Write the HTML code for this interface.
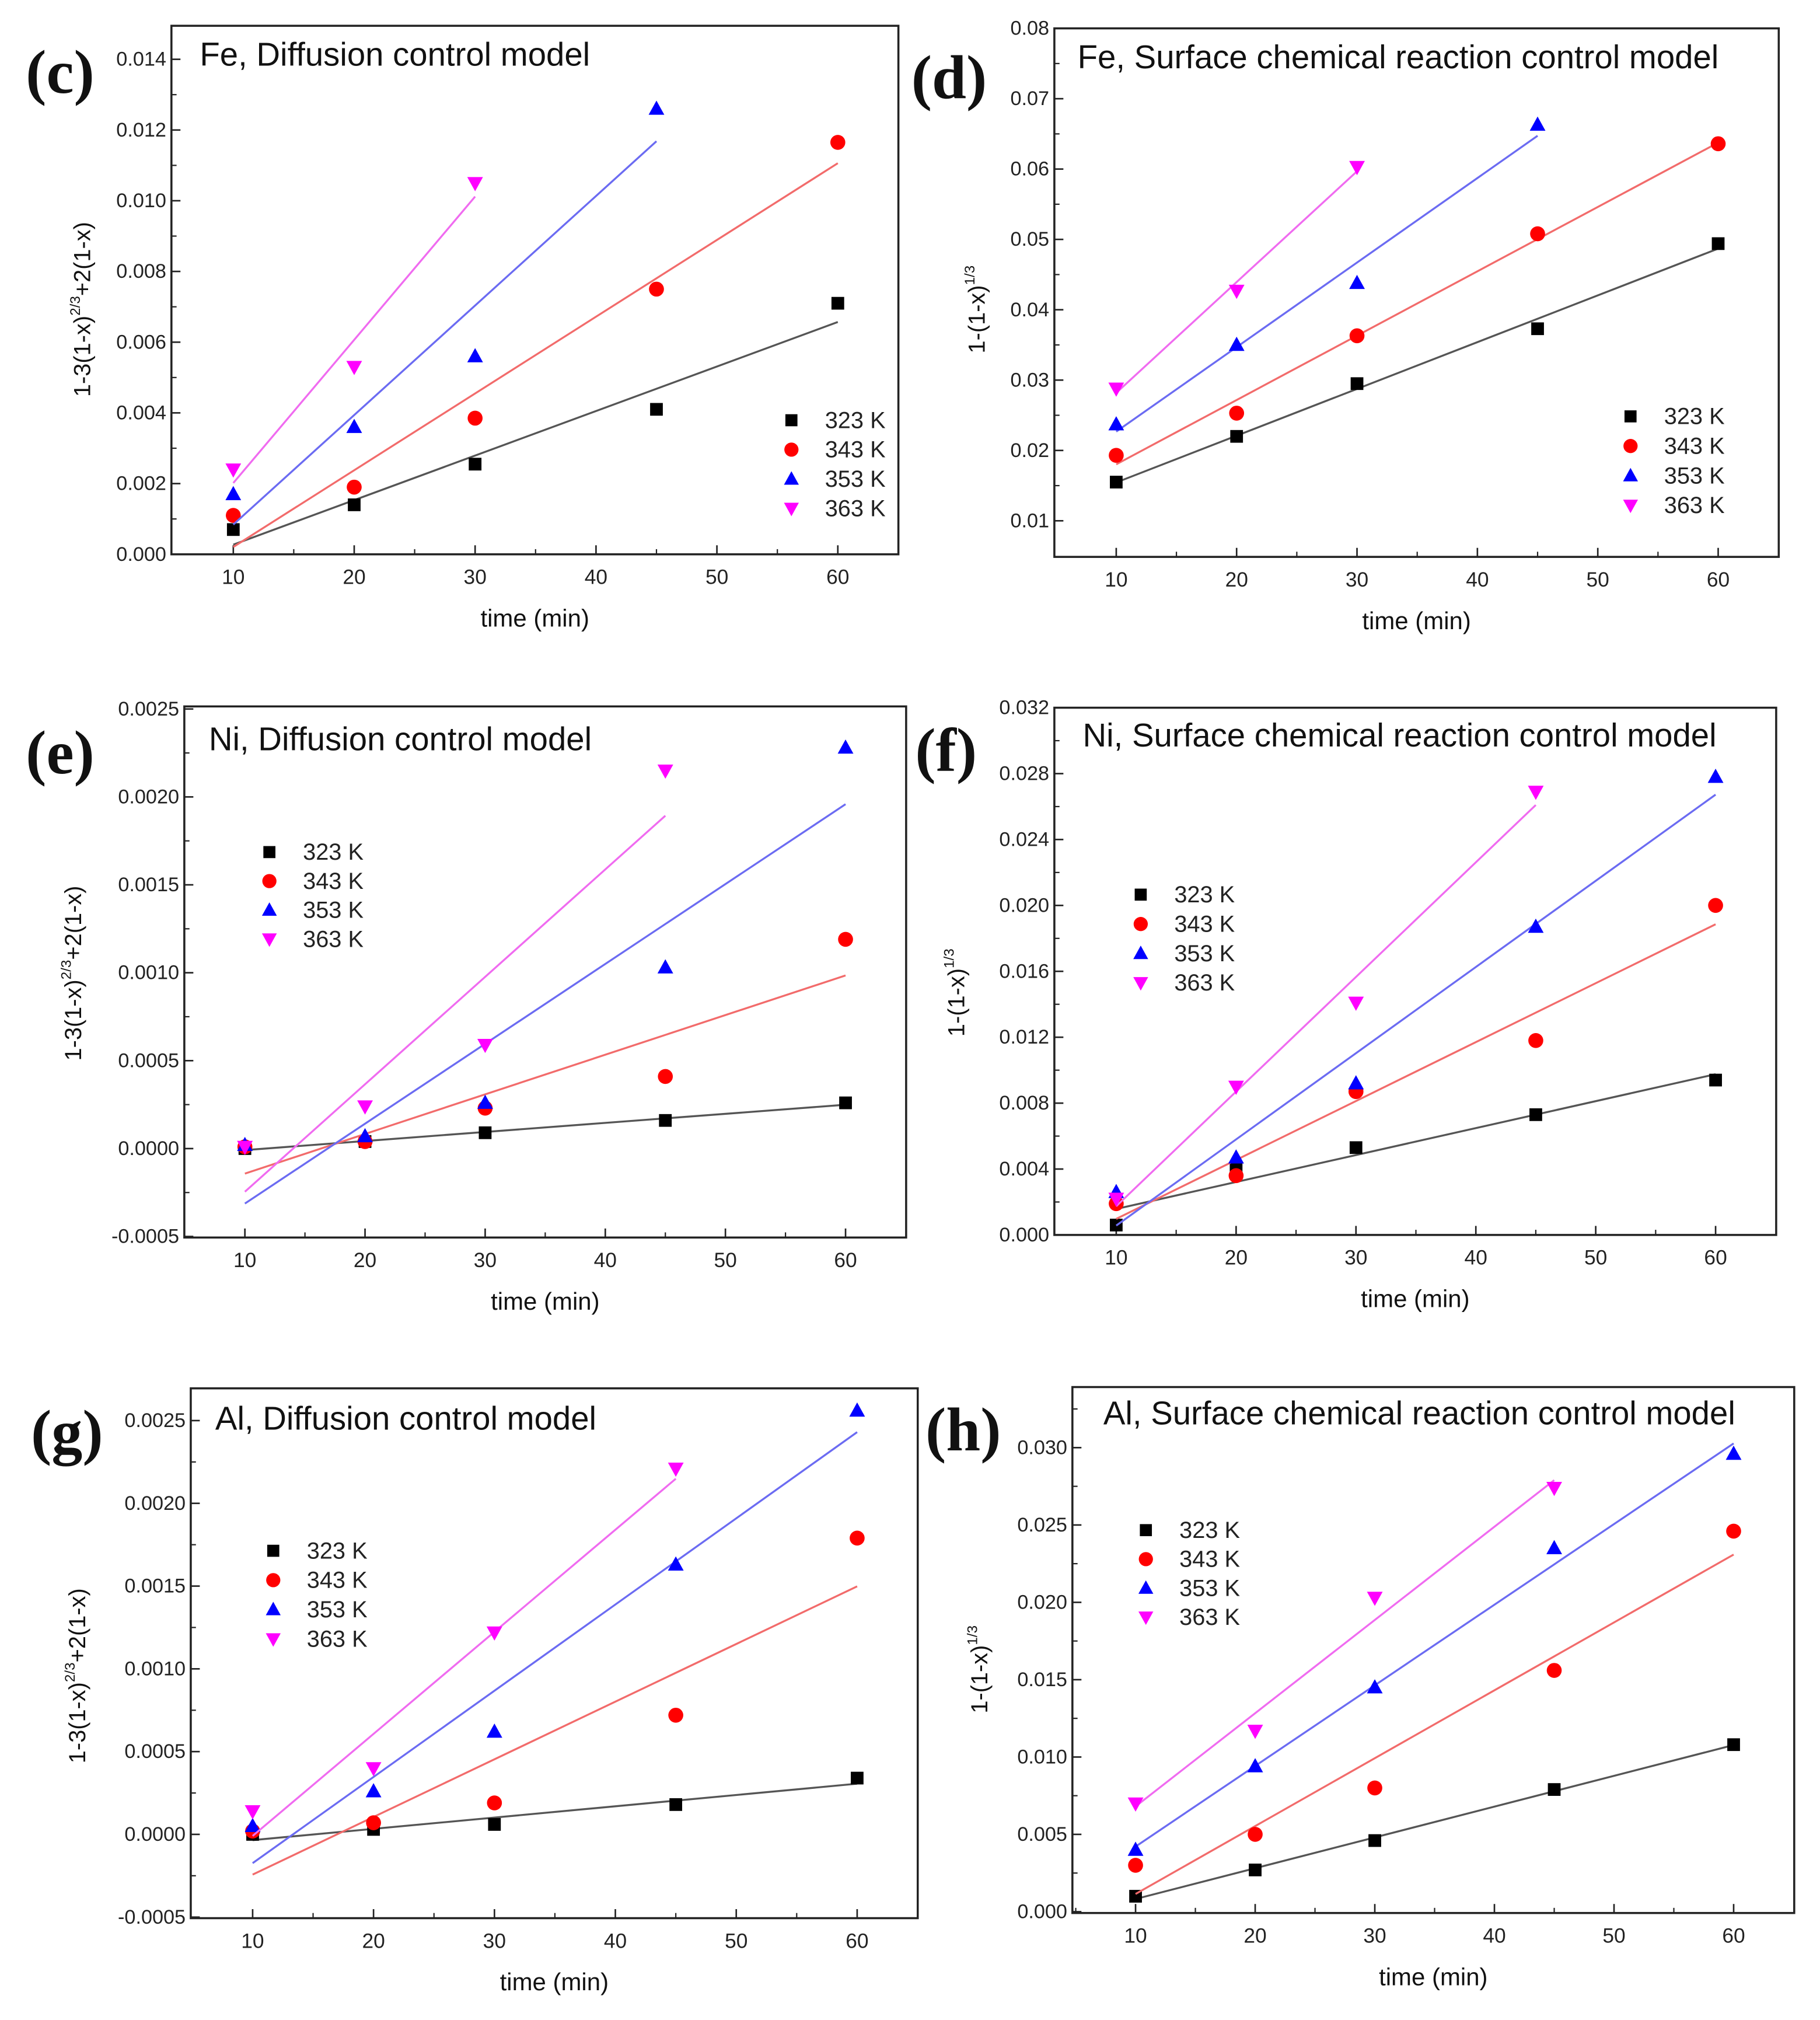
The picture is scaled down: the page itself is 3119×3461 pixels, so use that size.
<!DOCTYPE html>
<html><head><meta charset="utf-8">
<style>
html,body{margin:0;padding:0;background:#fff;}
svg{display:block;}
text{font-family:"Liberation Sans",sans-serif;}
</style></head>
<body>
<svg id="fig" xmlns="http://www.w3.org/2000/svg" width="3119" height="3461" viewBox="0 0 1412 1567" preserveAspectRatio="none"></svg>
<script>
// ---- data ----
const temps = ["323 K","343 K","353 K","363 K"];
const t5 = [10,20,30,45,60];
const t4 = [10,20,30,45];
const t3 = [10,20,30];
// panel c
const c323 = [0.0007,0.0014,0.00255,0.0041,0.0071];
const c343 = [0.0011,0.0019,0.00385,0.0075,0.01165];
const c353 = [0.0017,0.0036,0.0056,0.0126];
const c363 = [0.0024,0.0053,0.0105];
// panel d
const d323 = [0.0155,0.022,0.0295,0.0373,0.0494];
const d343 = [0.0193,0.0253,0.0363,0.0508,0.0636];
const d353 = [0.0237,0.035,0.0438,0.0663];
const d363 = [0.0288,0.0427,0.0603];
// panel e
const e323 = [0.0,0.00004,0.00009,0.00016,0.00026];
const e343 = [0.00001,0.00004,0.00023,0.00041,0.00119];
const e353 = [0.00002,0.00007,0.00026,0.00103,0.00228];
const e363 = [0.00001,0.00024,0.00059,0.00215];
// panel f
const f323 = [0.0006,0.0041,0.0053,0.0073,0.0094];
const f343 = [0.0019,0.0036,0.0087,0.0118,0.0200];
const f353 = [0.0026,0.0047,0.0092,0.0187,0.0278];
const f363 = [0.0022,0.0090,0.0141,0.0269];
// panel g
const g323 = [0.0,0.00003,0.00006,0.00018,0.00034];
const g343 = [0.00002,0.00007,0.00019,0.00072,0.00179];
const g353 = [0.00005,0.00026,0.00062,0.00163,0.00256];
const g363 = [0.00014,0.0004,0.00122,0.00221];
// panel h
const h323 = [0.001,0.0027,0.0046,0.0079,0.0108];
const h343 = [0.003,0.005,0.008,0.0156,0.0246];
const h353 = [0.004,0.0094,0.0145,0.0235,0.0296];
const h363 = [0.007,0.0117,0.0203,0.0274];
// tick labels
const xTicks = [10,20,30,40,50,60];
const ticksC = ["0.000","0.002","0.004","0.006","0.008","0.010","0.012","0.014"];
const ticksD = ["0.01","0.02","0.03","0.04","0.05","0.06","0.07","0.08"];
const ticksE = ["-0.0005","0.0000","0.0005","0.0010","0.0015","0.0020","0.0025"];
const ticksF = ["0.000","0.004","0.008","0.012","0.016","0.020","0.024","0.028","0.032"];
const ticksH = ["0.000","0.005","0.010","0.015","0.020","0.025","0.030"];

const NS="http://www.w3.org/2000/svg";
const svg=document.getElementById('fig');
function mk(tag,attrs,parent){const e=document.createElementNS(NS,tag);for(const k in attrs)e.setAttribute(k,attrs[k]);(parent||svg).appendChild(e);return e;}

const colors=["#000000","#ff0000","#0000ff","#ff00ff"];
const lineColors=["#555555","#f26b6b","#6b6bf2","#f06bf0"];

function marker(g,k,x,y,s){
  let m;
  if(k===0) m=mk('rect',{x:x-s*0.85,y:y-s*0.85,width:s*1.7,height:s*1.7,fill:colors[0]},g);
  else if(k===1) m=mk('circle',{cx:x,cy:y,r:s,fill:colors[1]},g);
  else if(k===2) m=mk('polygon',{points:`${x},${y-s*1.1} ${x-s*1.05},${y+s*0.8} ${x+s*1.05},${y+s*0.8}`,fill:colors[2]},g);
  else m=mk('polygon',{points:`${x},${y+s*1.1} ${x-s*1.05},${y-s*0.8} ${x+s*1.05},${y-s*0.8}`,fill:colors[3]},g);
  return m;
}

function fit(xs,ys){const n=xs.length;let sx=0,sy=0,sxx=0,sxy=0;for(let i=0;i<n;i++){sx+=xs[i];sy+=ys[i];sxx+=xs[i]*xs[i];sxy+=xs[i]*ys[i];}const b=(n*sxy-sx*sy)/(n*sxx-sx*sx);return [b,(sy-b*sx)/n];}

function panel(p){
  const g=mk('g',{});
  
  
  const X=v=>p.x10+(v-10)*(p.x60-p.x10)/50;
  const Y=v=>p.y0+(v-p.v0)*(p.y1-p.y0)/(p.v1-p.v0);
  const fr=mk('rect',{x:p.L,y:p.T,width:p.R-p.L,height:p.B-p.T,fill:'none',stroke:'#222','stroke-width':1.6},g);
  
  xTicks.forEach(v=>{
    const x=X(v);
    mk('line',{x1:x,x2:x,y1:p.B,y2:p.B-7,stroke:'#222','stroke-width':1.2},g);
    const t=mk('text',{x:x,y:p.B+23,'font-size':16,'text-anchor':'middle',fill:'#222'},g);t.textContent=v;
    
    const xm=X(v+5);if(xm<p.R-2)mk('line',{x1:xm,x2:xm,y1:p.B,y2:p.B-4,stroke:'#222','stroke-width':1},g);
  });
  const x5=X(5); if(x5>p.L+2) mk('line',{x1:x5,x2:x5,y1:p.B,y2:p.B-4,stroke:'#222','stroke-width':1},g);
  p.ticks.forEach((lab,i)=>{
    const v=p.tStart+i*p.tStep, y=Y(v);
    mk('line',{x1:p.L,x2:p.L+7,y1:y,y2:y,stroke:'#222','stroke-width':1.2},g);
    const t=mk('text',{x:p.L-4,y:y+5,'font-size':15.5,'text-anchor':'end',fill:'#222'},g);t.textContent=lab;
    
    const ym=Y(v+p.tStep/2); if(ym>p.T+2) mk('line',{x1:p.L,x2:p.L+4,y1:ym,y2:ym,stroke:'#222','stroke-width':1},g);
  });
  p.series.forEach((ys,k)=>{
    const xs=p.xs[k];
    const sg=mk('g',{},g);
    
    
    const [b,a]=fit(xs,ys);
    const x0=xs[0],x1=xs[xs.length-1];
    const ln=mk('line',{x1:X(x0),y1:Y(a+b*x0),x2:X(x1),y2:Y(a+b*x1),stroke:lineColors[k],'stroke-width':1.5},sg);
    
    xs.forEach((xv,i)=>{const m=marker(sg,k,X(xv),Y(ys[i]),5.8);
      });
  });
  const lg=mk('g',{},g);
  
  temps.forEach((tt,k)=>{
    const y=p.legY+k*p.legDy;
    const m=marker(lg,k,p.legX,y-5,5.5);
    
    const t=mk('text',{x:p.legX+26,y:y+1,'font-size':18,fill:'#222'},lg);t.textContent=tt;
    
  });
  const ti=mk('text',{x:p.titX,y:p.titY,'font-size':25.5,fill:'#111'},g);ti.textContent=p.title;
  
  const pl=mk('text',{x:p.labX,y:p.labY,'font-size':48,'font-weight':'bold',fill:'#111'},g);
  pl.setAttribute('style','font-family:"Liberation Serif",serif');
  pl.textContent='('+p.id+')';
  
  const xt=mk('text',{x:(p.L+p.R)/2,y:p.B+56,'font-size':19,'text-anchor':'middle',fill:'#111'},g);xt.textContent='time (min)';
  
  const yt=mk('text',{x:0,y:0,'font-size':18,'text-anchor':'middle',fill:'#111',transform:`translate(${p.ytX},${p.ytY}) rotate(-90)`},g);
  
  if(p.diff){
    yt.innerHTML='1-3(1-x)<tspan font-size="11" dy="-8">2/3</tspan><tspan dy="8">+2(1-x)</tspan>';
  } else {
    yt.innerHTML='1-(1-x)<tspan font-size="11" dy="-8">1/3</tspan>';
  }
}

const xsFe=[t5,t5,t4,t3], xsNiAl=[t5,t5,t5,t4];
panel({id:'c',L:133,T:20,R:697,B:430,x10:181,x60:650,y0:430,v0:0,y1:46,v1:0.014,ticks:ticksC,tStart:0,tStep:0.002,xs:xsFe,
  series:[c323,c343,c353,c363],legX:614,legY:331,legDy:22.8,title:'Fe, Diffusion control model',titX:155,titY:51,labX:20,labY:72,ytX:70,ytY:240,diff:true});
panel({id:'d',L:818,T:22,R:1380,B:432,x10:866,x60:1333,y0:404,v0:0.01,y1:22,v1:0.08,ticks:ticksD,tStart:0.01,tStep:0.01,xs:xsFe,
  series:[d323,d343,d353,d363],legX:1265,legY:328,legDy:23,title:'Fe, Surface chemical reaction control model',titX:836,titY:53,labX:707,labY:76,ytX:764,ytY:240,diff:false});
panel({id:'e',L:143,T:548,R:703,B:960,x10:190,x60:656,y0:891,v0:0,y1:550,v1:0.0025,ticks:ticksE,tStart:-0.0005,tStep:0.0005,xs:xsNiAl,
  series:[e323,e343,e353,e363],legX:209,legY:666,legDy:22.5,title:'Ni, Diffusion control model',titX:162,titY:582,labX:20,labY:600,ytX:63,ytY:755,diff:true});
panel({id:'f',L:818,T:549,R:1378,B:958,x10:866,x60:1331,y0:958,v0:0,y1:549,v1:0.032,ticks:ticksF,tStart:0,tStep:0.004,xs:xsNiAl,
  series:[f323,f343,f353,f363],legX:885,legY:699,legDy:22.8,title:'Ni, Surface chemical reaction control model',titX:840,titY:579,labX:710,labY:598,ytX:748,ytY:770,diff:false});
panel({id:'g',L:148,T:1077,R:712,B:1488,x10:196,x60:665,y0:1423,v0:0,y1:1102,v1:0.0025,ticks:ticksE,tStart:-0.0005,tStep:0.0005,xs:xsNiAl,
  series:[g323,g343,g353,g363],legX:212,legY:1208,legDy:22.8,title:'Al, Diffusion control model',titX:167,titY:1109,labX:24,labY:1127,ytX:66,ytY:1300,diff:true});
panel({id:'h',L:832,T:1076,R:1392,B:1484,x10:881,x60:1345,y0:1483,v0:0,y1:1123,v1:0.030,ticks:ticksH,tStart:0,tStep:0.005,xs:xsNiAl,
  series:[h323,h343,h353,h363],legX:889,legY:1192,legDy:22.5,title:'Al, Surface chemical reaction control model',titX:856,titY:1105,labX:718,labY:1125,ytX:766,ytY:1295,diff:false});
</script>
</body></html>
